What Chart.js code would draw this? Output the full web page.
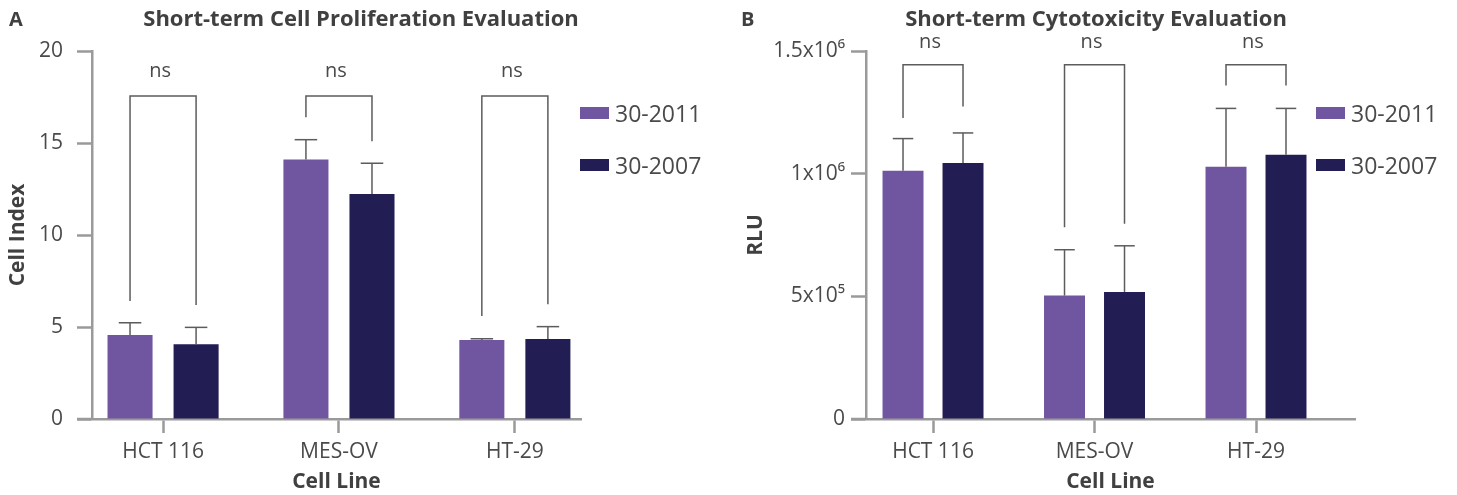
<!DOCTYPE html>
<html>
<head>
<meta charset="utf-8">
<script src="https://cdn.jsdelivr.net/npm/chart.js@4.4.0/dist/chart.umd.min.js"></script>
<style>
  body { margin: 0; background: #fff; font-family: "Open Sans", sans-serif; }
  .panel { position: absolute; top: 0; width: 722px; height: 495px; }
  .panel canvas { display: block; }
  .tag { position: absolute; top: 5px; left: 9px; font-weight: bold; font-size: 20px; color: #404040; }
  .legend { position: absolute; top: 100px; font-size: 23px; color: #4a4a4a; }
  .legend .row { display: flex; align-items: center; height: 26px; margin-bottom: 26px; }
  .legend .sw { width: 29px; height: 12px; margin-right: 6px; }
</style>
</head>
<body>
<div class="panel" style="left:0">
  <canvas id="prolif" width="722" height="495"></canvas>
  <div class="tag">A</div>
  <div class="legend" id="legA" style="left:580px"></div>
</div>
<div class="panel" style="left:735px">
  <canvas id="cyto" width="722" height="495"></canvas>
  <div class="tag" style="left:6px">B</div>
  <div class="legend" id="legB" style="left:581px"></div>
</div>
<script>
const cellLines = ["HCT 116", "MES-OV", "HT-29"];
const seriesNames = ["30-2011", "30-2007"];
const seriesColors = ["#7055a1", "#221d53"];
const sigLabels = ["ns", "ns", "ns"];

// A: cell index
const prolif2011 = [4.57, 14.11, 4.29];
const prolif2007 = [4.06, 12.23, 4.35];
const prolifErr2011 = [0.66, 1.07, 0.07];
const prolifErr2007 = [0.92, 1.67, 0.67];
const prolifBracketTop = [17.55, 17.55, 17.55];
const prolifBracketLeft = [6.41, 16.4, 5.6];
const prolifBracketRight = [6.2, 15.1, 6.23];
const prolifTicks = [0, 5, 10, 15, 20];
const prolifTickLabels = ["0", "5", "10", "15", "20"];

// B: RLU
const cyto2011 = [1012000, 503000, 1028000];
const cyto2007 = [1043000, 518000, 1077000];
const cytoErr2011 = [131000, 187000, 238000];
const cytoErr2007 = [123000, 188000, 189000];
const cytoBracketTop = [1444000, 1444000, 1444000];
const cytoBracketLeft = [1227000, 782000, 1359000];
const cytoBracketRight = [1274000, 796000, 1359000];
const cytoTicks = [0, 500000, 1000000, 1500000];
const cytoTickLabels = ["0", "5x10\u2075", "1x10\u2076", "1.5x10\u2076"];

const fontFamily = '"Open Sans", sans-serif';
const textGray = "#4a4a4a";
const titleGray = "#404040";
const axisGray = "#9a9a9a";
const lineGray = "#5c5c5c";

function line(ctx, x1, y1, x2, y2) {
  ctx.beginPath();
  ctx.moveTo(x1, y1);
  ctx.lineTo(x2, y2);
  ctx.stroke();
}

// error bars, "ns" brackets and the little x-axis stub left of the y axis
const statMarks = {
  id: "statMarks",
  afterDatasetsDraw(chart, args, opts) {
    const ctx = chart.ctx;
    const y = chart.scales.y;
    const area = chart.chartArea;
    ctx.save();
    ctx.strokeStyle = axisGray;
    ctx.lineWidth = 2.5;
    line(ctx, area.left - 15, area.bottom, area.left, area.bottom);

    ctx.strokeStyle = lineGray;
    ctx.lineWidth = 1.5;
    chart.data.datasets.forEach((ds, di) => {
      chart.getDatasetMeta(di).data.forEach((bar, i) => {
        const top = y.getPixelForValue(ds.data[i].y + opts.errors[di][i]);
        const cap = bar.width / 4;
        line(ctx, bar.x, bar.y, bar.x, top);
        line(ctx, bar.x - cap, top, bar.x + cap, top);
      });
    });

    const a = chart.getDatasetMeta(0).data;
    const b = chart.getDatasetMeta(1).data;
    ctx.fillStyle = textGray;
    ctx.font = "20px " + fontFamily;
    ctx.textAlign = "center";
    ctx.textBaseline = "middle";
    opts.top.forEach((t, i) => {
      const yt = y.getPixelForValue(t);
      ctx.beginPath();
      ctx.moveTo(a[i].x, y.getPixelForValue(opts.left[i]));
      ctx.lineTo(a[i].x, yt);
      ctx.lineTo(b[i].x, yt);
      ctx.lineTo(b[i].x, y.getPixelForValue(opts.right[i]));
      ctx.stroke();
      ctx.fillText(sigLabels[i], (a[i].x + b[i].x) / 2 - 3, yt - opts.labelGap);
    });
    ctx.restore();
  },
};

function makeChart(id, cfg) {
  return new Chart(document.getElementById(id), {
    type: "bar",
    data: {
      datasets: cfg.series.map((vals, di) => ({
        label: seriesNames[di],
        data: vals.map((v, i) => ({ x: i, y: v })),
        backgroundColor: seriesColors[di],
        categoryPercentage: cfg.catPct,
        barPercentage: cfg.barPct,
      })),
    },
    options: {
      responsive: false,
      animation: false,
      layout: { padding: 0 },
      plugins: {
        legend: { display: false },
        tooltip: { enabled: false },
        title: {
          display: true,
          text: cfg.title,
          font: { family: fontFamily, size: 22, weight: "bold" },
          color: titleGray,
          padding: { top: 7, bottom: 17.6 },
        },
        statMarks: {
          errors: cfg.errors,
          top: cfg.bracketTop,
          left: cfg.bracketLeft,
          right: cfg.bracketRight,
          labelGap: cfg.labelGap,
        },
      },
      scales: {
        x: {
          type: "linear",
          offset: false,
          min: cfg.xMin,
          max: cfg.xMax,
          afterBuildTicks: (s) => {
            s.ticks = cellLines.map((c, i) => ({ value: i }));
          },
          afterFit: (s) => {
            s.height = 76;
          },
          ticks: {
            callback: (v) => cellLines[v],
            font: { family: fontFamily, size: 21 },
            color: textGray,
            padding: 6,
            autoSkip: false,
            maxRotation: 0,
          },
          grid: { offset: false, drawOnChartArea: false, tickLength: 14, tickWidth: 2.5, tickColor: axisGray },
          border: { color: axisGray, width: 2.5 },
          title: {
            display: true,
            text: "Cell Line",
            font: { family: fontFamily, size: 21, weight: "bold" },
            color: titleGray,
            padding: { top: 0, bottom: 0 },
          },
        },
        y: {
          min: 0,
          max: cfg.yTicks[cfg.yTicks.length - 1],
          afterBuildTicks: (s) => {
            s.ticks = cfg.yTicks.map((v) => ({ value: v }));
          },
          afterFit: (s) => {
            s.width = cfg.yWidth;
          },
          ticks: {
            callback: (v, i) => cfg.yLabels[i],
            font: { family: fontFamily, size: 21 },
            color: textGray,
            padding: cfg.yPad,
          },
          grid: { drawOnChartArea: false, tickLength: 15, tickWidth: 2.5, tickColor: axisGray },
          border: { color: axisGray, width: 2.5 },
          title: {
            display: true,
            text: cfg.yTitle,
            font: { family: fontFamily, size: 21, weight: "bold" },
            color: titleGray,
            padding: { top: cfg.yTitlePad, bottom: 0 },
          },
        },
        // empty right-hand axis that keeps room for the legend, so the title stays centred on the panel
        room: {
          type: "linear",
          position: "right",
          grid: { display: false },
          border: { display: false },
          ticks: { display: false },
          afterFit: (s) => {
            s.width = cfg.padRight;
          },
        },
      },
    },
    plugins: [statMarks],
  });
}

function makeLegend(id) {
  const box = document.getElementById(id);
  seriesNames.forEach((name, i) => {
    const row = document.createElement("div");
    row.className = "row";
    row.innerHTML = `<span class="sw" style="background:${seriesColors[i]}"></span><span>${name}</span>`;
    box.appendChild(row);
  });
}

makeChart("prolif", {
  title: "Short-term Cell Proliferation Evaluation",
  yTitle: "Cell Index",
  series: [prolif2011, prolif2007],
  errors: [prolifErr2011, prolifErr2007],
  bracketTop: prolifBracketTop,
  bracketLeft: prolifBracketLeft,
  bracketRight: prolifBracketRight,
  labelGap: 25,
  yTicks: prolifTicks,
  yLabels: prolifTickLabels,
  yWidth: 92,
  yPad: 14,
  yTitlePad: 5,
  xMin: -0.404,
  xMax: 2.376,
  catPct: 0.751,
  barPct: 0.682,
  padRight: 141,
});

makeChart("cyto", {
  title: "Short-term Cytotoxicity Evaluation",
  yTitle: "RLU",
  series: [cyto2011, cyto2007],
  errors: [cytoErr2011, cytoErr2007],
  bracketTop: cytoBracketTop,
  bracketLeft: cytoBracketLeft,
  bracketRight: cytoBracketRight,
  labelGap: 22,
  yTicks: cytoTicks,
  yLabels: cytoTickLabels,
  yWidth: 131,
  yPad: 6,
  yTitlePad: 8,
  xMin: -0.415,
  xMax: 2.613,
  catPct: 0.743,
  barPct: 0.683,
  padRight: 102,
});

makeLegend("legA");
makeLegend("legB");
</script>
</body>
</html>
